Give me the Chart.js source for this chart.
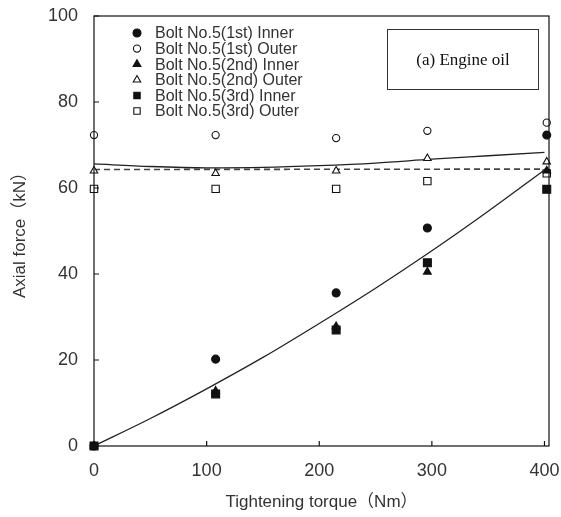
<!DOCTYPE html>
<html>
<head>
<meta charset="utf-8">
<script src="https://cdn.jsdelivr.net/npm/chart.js@4.4.1/dist/chart.umd.min.js"></script>
<style>
  html, body { margin: 0; padding: 0; background: #fff; }
  #wrap { width: 561px; height: 517px; }
</style>
</head>
<body>
<div id="wrap"><canvas id="chart"></canvas></div>
<script>
// measured points (torque in Nm, axial force in kN)
const torque = [0, 108, 215, 296, 402];
const inner1 = [0, 20.2, 35.6, 50.7, 72.3];
const outer1 = [72.3, 72.3, 71.6, 73.3, 75.2];
const inner2 = [0, 12.8, 27.8, 40.5, 64.0];
const outer2 = [64.0, 63.4, 64.0, 66.9, 66.1];
const inner3 = [0, 12.1, 27.0, 42.6, 59.7];
const outer3 = [59.8, 59.8, 59.8, 61.6, 63.4];

const seriesLabels = [
  'Bolt No.5(1st) Inner', 'Bolt No.5(1st) Outer',
  'Bolt No.5(2nd) Inner', 'Bolt No.5(2nd) Outer',
  'Bolt No.5(3rd) Inner', 'Bolt No.5(3rd) Outer'
];

// trend lines
const fitX = [0, 50, 100, 150, 200, 250, 300, 350, 400];
const innerFit = [0, 6.4, 13.3, 20.6, 28.5, 36.7, 45.4, 54.6, 64.2];
const outerFit = [65.6, 65.0, 64.7, 64.8, 65.2, 65.8, 66.7, 67.5, 68.3];
const dashX = [0, 400];
const dashY = [64.3, 64.4];

const xTicks = [0, 100, 200, 300, 400];
const yTicks = [0, 20, 40, 60, 80, 100];

const panelLabel = '(a) Engine oil';
const xTitle = 'Tightening torque（Nm）';
const yTitle = 'Axial force（kN）';

function pts(xs, ys) {
  return xs.map((x, i) => ({ x: x, y: ys[i] }));
}

const markers = [
  { style: 'circle', filled: true, r: 4 },
  { style: 'circle', filled: false, r: 3.6 },
  { style: 'triangle', filled: true, r: 4.5 },
  { style: 'triangle', filled: false, r: 4.3 },
  { style: 'rect', filled: true, r: 5.6 },
  { style: 'rect', filled: false, r: 5.2 }
];
const values = [inner1, outer1, inner2, outer2, inner3, outer3];

const pointSets = values.map((v, i) => ({
  label: seriesLabels[i],
  data: pts(torque, v),
  pointStyle: markers[i].style,
  pointRadius: markers[i].r,
  pointHoverRadius: markers[i].r,
  pointBackgroundColor: markers[i].filled ? '#111' : '#fff',
  pointBorderColor: '#111',
  pointBorderWidth: 1.1,
  showLine: false,
  clip: false,
  isMarker: true
}));

const lineSets = [
  { data: pts(fitX, innerFit), borderColor: '#222', borderWidth: 1.3, borderDash: [] },
  { data: pts(fitX, outerFit), borderColor: '#222', borderWidth: 1.3, borderDash: [] },
  { data: pts(dashX, dashY), borderColor: '#444', borderWidth: 1.6, borderDash: [6, 4] }
].map(d => Object.assign(d, {
  showLine: true, pointRadius: 0, pointHoverRadius: 0, tension: 0.3,
  cubicInterpolationMode: 'monotone', clip: false, isMarker: false
}));

const framePlugin = {
  id: 'frame',
  afterDraw(chart) {
    const { ctx, chartArea: a, scales } = chart;
    ctx.save();
    ctx.strokeStyle = '#111';
    ctx.lineWidth = 1.2;
    ctx.strokeRect(a.left, a.top, a.right - a.left, a.bottom - a.top);
    // inward ticks
    ctx.beginPath();
    xTicks.forEach(v => {
      const px = scales.x.getPixelForValue(v);
      ctx.moveTo(px, a.bottom);
      ctx.lineTo(px, a.bottom - 5);
    });
    yTicks.forEach(v => {
      const py = scales.y.getPixelForValue(v);
      ctx.moveTo(a.left, py);
      ctx.lineTo(a.left + 5, py);
    });
    ctx.stroke();

    // legend inside the plot
    const rows = chart.data.datasets.filter(d => d.isMarker);
    ctx.font = '16px "Liberation Sans", Arial, sans-serif';
    ctx.fillStyle = '#333';
    ctx.textBaseline = 'middle';
    rows.forEach((d, i) => {
      const y = 33 + i * 15.6;
      ctx.save();
      ctx.fillStyle = d.pointBackgroundColor;
      ctx.strokeStyle = d.pointBorderColor;
      ctx.lineWidth = 1.1;
      Chart.helpers.drawPoint(ctx, {
        pointStyle: d.pointStyle, radius: Math.min(d.pointRadius, 4.5),
        rotation: 0, borderWidth: 1.1
      }, 137, y);
      ctx.restore();
      ctx.fillText(d.label, 155, y + 1);
    });

    // panel label box
    ctx.lineWidth = 1;
    ctx.strokeStyle = '#333';
    ctx.strokeRect(387.5, 29.5, 151, 60);
    ctx.font = '17px "Liberation Serif", "DejaVu Serif", serif';
    ctx.textAlign = 'center';
    ctx.fillStyle = '#111';
    ctx.fillText(panelLabel, 463, 61);
    ctx.restore();
  }
};

new Chart(document.getElementById('chart'), {
  type: 'scatter',
  data: { datasets: pointSets.concat(lineSets) },
  options: {
    responsive: true,
    maintainAspectRatio: false,
    animation: false,
    events: [],
    layout: { padding: { top: 16, right: 12, left: 0, bottom: 0 } },
    plugins: { legend: { display: false }, tooltip: { enabled: false } },
    scales: {
      x: {
        type: 'linear', min: 0, max: 404,
        afterBuildTicks: s => { s.ticks = xTicks.map(v => ({ value: v })); },
        afterFit: s => { s.height = 71; s.paddingLeft = 0; s.paddingRight = 0; },
        grid: { display: false, drawTicks: false },
        border: { display: false },
        ticks: { padding: 14, color: '#333', font: { family: '"Liberation Sans", Arial, sans-serif', size: 18 } },
        title: { display: true, text: xTitle, color: '#333', padding: { top: 1 },
          font: { family: '"Liberation Sans", "Noto Sans CJK JP", sans-serif', size: 17 } }
      },
      y: {
        type: 'linear', min: 0, max: 100,
        afterBuildTicks: s => { s.ticks = yTicks.map(v => ({ value: v })); },
        afterFit: s => { s.width = 94; s.paddingTop = 0; s.paddingBottom = 0; },
        grid: { display: false, drawTicks: false },
        border: { display: false },
        ticks: { padding: 16, color: '#333', font: { family: '"Liberation Sans", Arial, sans-serif', size: 18 } },
        title: { display: true, text: yTitle, color: '#333', padding: { top: 10, bottom: 4 },
          font: { family: '"Liberation Sans", "Noto Sans CJK JP", sans-serif', size: 17 } }
      }
    }
  },
  plugins: [framePlugin]
});
</script>
</body>
</html>
